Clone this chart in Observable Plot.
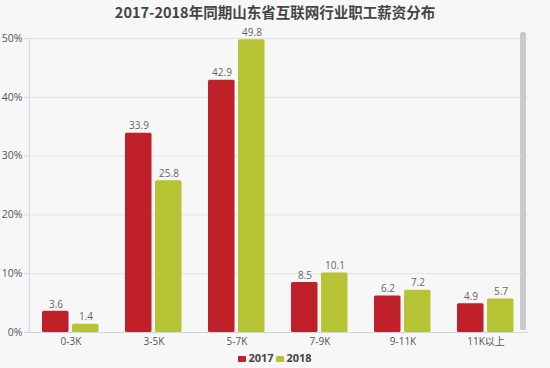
<!DOCTYPE html>
<html><head><meta charset="utf-8">
<script src="https://cdn.jsdelivr.net/npm/d3@7"></script>
<script src="https://cdn.jsdelivr.net/npm/@observablehq/plot@0.6"></script>
<style>
html,body{margin:0;padding:0;background:#f7f7f7;}
body{width:550px;height:368px;position:relative;overflow:hidden;font-family:"Open Sans","Noto Sans CJK SC",sans-serif;}
#title{position:absolute;top:1px;left:0;width:550px;text-align:center;font-size:14.5px;font-weight:bold;color:#444;font-family:"Noto Sans CJK SC","Open Sans",sans-serif;}
#chart{position:absolute;top:18px;left:0;}
#legend{position:absolute;top:350px;left:0;width:550px;text-align:center;font-size:11px;font-weight:bold;color:#444;}
#legend span.sw{display:inline-block;width:8px;height:6px;margin-right:2px;vertical-align:middle;border-radius:1px;}
#scroll{position:absolute;left:520px;top:32px;width:6px;height:298px;background:#c8cbce;border-radius:2px;}
</style></head>
<body>
<div id="title">2017-2018年同期山东省互联网行业职工薪资分布</div>
<div id="chart"></div>
<div id="scroll"></div>
<div id="legend"><span class="sw" style="background:#c0202a"></span>2017 <span class="sw" style="background:#b5c334"></span>2018</div>
<script>
const categories = ["0-3K","3-5K","5-7K","7-9K","9-11K","11K以上"];
const values2017 = [3.6, 33.9, 42.9, 8.5, 6.2, 4.9];
const values2018 = [1.4, 25.8, 49.8, 10.1, 7.2, 5.7];
const yTicks = [0,10,20,30,40,50];

const d17 = categories.map((c,i)=>({cat:c, v:values2017[i]}));
const d18 = categories.map((c,i)=>({cat:c, v:values2018[i]}));

const red = "#c0202a", green = "#b5c334";
const chart = Plot.plot({
  width: 550,
  height: 330,
  marginLeft: 27,
  marginRight: 22,
  marginTop: 20,
  marginBottom: 16,
  style: {background: "transparent", fontFamily: "'Open Sans','Noto Sans CJK SC',sans-serif"},
  x: {domain: categories, padding: 0, label: null},
  y: {domain: [0,50], label: null},
  marks: [
    Plot.gridY(yTicks, {stroke: "#e3e3e3", strokeOpacity: 1}),
    Plot.axisY(yTicks, {tickFormat: d => d + "%", fontSize: 10.5, fill: "#555", tickSize: 3, tickPadding: 2, stroke: "#ccd6e0"}),
    Plot.axisX({tickSize: 0, tickPadding: 5, fontSize: 10, fill: "#555"}),
    Plot.barY(d17, {x: "cat", y: "v", fill: red, insetLeft: 13, insetRight: 43.5, rx: 1.5}),
    Plot.barY(d18, {x: "cat", y: "v", fill: green, insetLeft: 43, insetRight: 13.5, rx: 1.5}),
    Plot.text(d17, {x: "cat", y: "v", text: d => d.v.toFixed(1), dx: -15, dy: -7, fontSize: 10, fill: "#666"}),
    Plot.text(d18, {x: "cat", y: "v", text: d => d.v.toFixed(1), dx: 15, dy: -7, fontSize: 10, fill: "#666"}),
    Plot.ruleY([0], {stroke: "#ccd6e0"}),
    Plot.ruleX([categories[0]], {y1: 0, y2: 50, stroke: "#ccd6e0", dx: -41.75})
  ]
});
document.getElementById("chart").appendChild(chart);
</script>
</body></html>
